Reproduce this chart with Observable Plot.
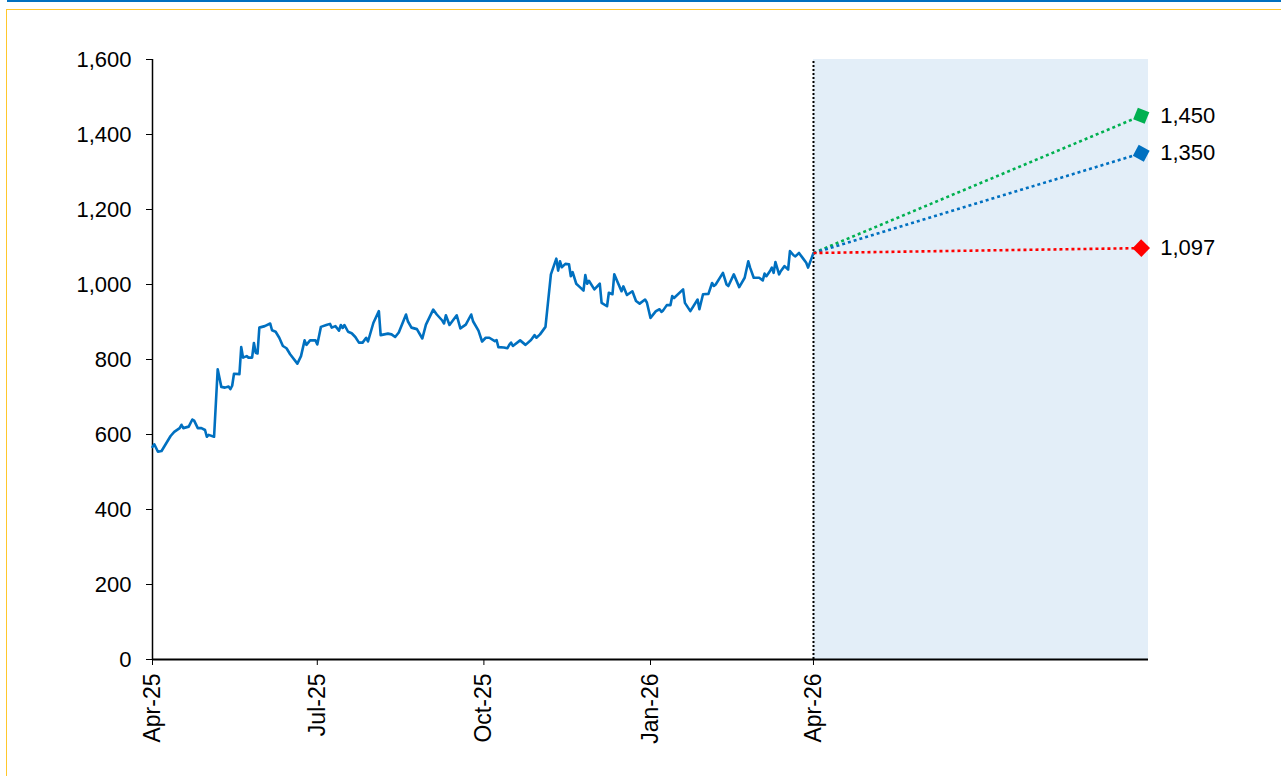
<!DOCTYPE html>
<html>
<head>
<meta charset="utf-8">
<script src="https://cdn.jsdelivr.net/npm/d3@7"></script>
<script src="https://cdn.jsdelivr.net/npm/@observablehq/plot@0.6"></script>
<style>
  html, body { margin: 0; padding: 0; background: #ffffff; }
  #frame { position: relative; width: 1281px; height: 776px; overflow: hidden; }
  .topline { position: absolute; left: 7px; top: 0; right: 0; height: 2px; background: #0070c0; }
  .box { position: absolute; left: 6px; top: 9px; width: 1400px; height: 900px;
         border-left: 1px solid #ffc72c; border-top: 1px solid #ffc72c; }
  #chart { position: absolute; left: 0; top: 0; }
</style>
</head>
<body>
<div id="frame">
  <div class="topline"></div>
  <div class="box"></div>
  <div id="chart"></div>
</div>
<script>
// Daily closing prices, Apr-25 to Apr-26
const priceDates = [
  "2025-04-01","2025-04-02","2025-04-04","2025-04-06","2025-04-08","2025-04-11","2025-04-13","2025-04-16",
  "2025-04-17","2025-04-18","2025-04-21","2025-04-23","2025-04-24","2025-04-26","2025-04-28","2025-04-30",
  "2025-05-01","2025-05-02","2025-05-05","2025-05-07","2025-05-09","2025-05-11","2025-05-13","2025-05-14",
  "2025-05-15","2025-05-16","2025-05-19","2025-05-20","2025-05-21","2025-05-23","2025-05-24","2025-05-26",
  "2025-05-27","2025-05-28","2025-05-29","2025-05-30","2025-06-02","2025-06-05","2025-06-06","2025-06-08",
  "2025-06-10","2025-06-12","2025-06-14","2025-06-16","2025-06-20","2025-06-22","2025-06-24","2025-06-25",
  "2025-06-27","2025-06-30","2025-07-01","2025-07-03","2025-07-06","2025-07-08","2025-07-09","2025-07-11",
  "2025-07-13","2025-07-14","2025-07-15","2025-07-16","2025-07-18","2025-07-20","2025-07-22","2025-07-24",
  "2025-07-26","2025-07-28","2025-07-29","2025-08-01","2025-08-04","2025-08-05","2025-08-09","2025-08-11",
  "2025-08-13","2025-08-15","2025-08-19","2025-08-20","2025-08-22","2025-08-25","2025-08-28","2025-08-30",
  "2025-09-03","2025-09-05","2025-09-08","2025-09-09","2025-09-10","2025-09-12","2025-09-16","2025-09-18",
  "2025-09-21","2025-09-24","2025-09-25","2025-09-28","2025-09-30","2025-10-02","2025-10-04","2025-10-07",
  "2025-10-08","2025-10-09","2025-10-12","2025-10-14","2025-10-15","2025-10-16","2025-10-17","2025-10-21",
  "2025-10-24","2025-10-27","2025-10-29","2025-10-30","2025-11-01","2025-11-04","2025-11-07","2025-11-10",
  "2025-11-11","2025-11-12","2025-11-13","2025-11-15","2025-11-17","2025-11-18","2025-11-19","2025-11-21",
  "2025-11-23","2025-11-25","2025-11-26","2025-11-27","2025-11-28","2025-12-01","2025-12-04","2025-12-05",
  "2025-12-08","2025-12-09","2025-12-11","2025-12-12","2025-12-16","2025-12-17","2025-12-19","2025-12-22",
  "2025-12-24","2025-12-26","2025-12-29","2025-12-30","2026-01-01","2026-01-04","2026-01-06","2026-01-07",
  "2026-01-08","2026-01-10","2026-01-12","2026-01-13","2026-01-14","2026-01-19","2026-01-20","2026-01-23",
  "2026-01-27","2026-01-28","2026-01-30","2026-02-02","2026-02-04","2026-02-05","2026-02-06","2026-02-10",
  "2026-02-12","2026-02-13","2026-02-16","2026-02-19","2026-02-22","2026-02-24","2026-02-25","2026-02-27",
  "2026-03-02","2026-03-04","2026-03-05","2026-03-06","2026-03-08","2026-03-09","2026-03-10","2026-03-11",
  "2026-03-13","2026-03-14","2026-03-16","2026-03-18","2026-03-19","2026-03-21","2026-03-22","2026-03-24",
  "2026-03-26","2026-03-28","2026-03-29","2026-03-31","2026-04-01"
];
const priceValues = [
  567, 574, 554, 556, 572, 596, 607, 617,
  626, 617, 621, 640, 637, 617, 617, 612,
  594, 599, 594, 774, 727, 725, 728, 721,
  730, 762, 761, 833, 805, 809, 805, 805,
  844, 818, 816, 885, 889, 896, 878, 874,
  858, 836, 830, 814, 789, 809, 851, 839,
  851, 851, 840, 887, 892, 895, 885, 889,
  877, 892, 884, 892, 874, 870, 860, 845,
  845, 858, 848, 898, 929, 865, 869, 867,
  860, 872, 920, 902, 885, 881, 856, 893,
  933, 920, 904, 896, 918, 892, 918, 883,
  893, 920, 902, 877, 848, 858, 858, 849,
  852, 833, 832, 830, 839, 845, 836, 851,
  839, 852, 865, 858, 867, 887, 1027, 1069,
  1037, 1062, 1046, 1055, 1054, 1022, 1033, 1002,
  993, 984, 1025, 1002, 1010, 987, 1002, 951,
  942, 978, 974, 1027, 982, 995, 972, 982,
  956, 949, 960, 952, 911, 929, 934, 927,
  931, 945, 945, 969, 964, 987, 951, 929,
  960, 934, 974, 975, 1004, 996, 1000, 1031,
  1000, 996, 1027, 993, 1018, 1062, 1045, 1018,
  1018, 1011, 1029, 1022, 1036, 1045, 1031, 1060,
  1027, 1036, 1049, 1040, 1089, 1078, 1075, 1084,
  1071, 1058, 1045, 1071, 1084
];

// Price targets at the end of the forecast window
const scenarioNames = ["bull", "base", "bear"];
const targetValues = [1450, 1350, 1097];
const targetLabels = ["1,450", "1,350", "1,097"];
const forecastStart = "2026-04-01";
const targetDate = "2026-09-29";

// Axis setup
const axisStart = "2025-04-01";
const axisEnd = "2026-10-03";
const xTickDates = ["2025-04-01", "2025-07-01", "2025-10-01", "2026-01-01", "2026-04-01"];
const xTickLabels = ["Apr-25", "Jul-25", "Oct-25", "Jan-26", "Apr-26"];
const yTicks = [0, 200, 400, 600, 800, 1000, 1200, 1400, 1600];

const scenarioColor = { bull: "#00b050", base: "#0070c0", bear: "#ff0000" };
const priceColor = "#0070c0";
const shadeColor = "#e3eef8";
const fontSize = 21;
const valueFontSize = 22;
const dateFontSize = 23;

const prices = priceDates.map((d, i) => ({ date: new Date(d), value: priceValues[i] }));
const lastPrice = priceValues[priceValues.length - 1];

const forecastPaths = scenarioNames.flatMap((name, i) => [
  { name, date: new Date(forecastStart), value: lastPrice },
  { name, date: new Date(targetDate), value: targetValues[i] }
]);
const targets = scenarioNames.map((name, i) => ({
  name, date: new Date(targetDate), value: targetValues[i], label: targetLabels[i]
}));

const tickLabelByTime = new Map(xTickDates.map((d, i) => [+new Date(d), xTickLabels[i]]));
const thousands = d3.format(",");

const chart = Plot.plot({
  width: 1281,
  height: 776,
  marginTop: 59,
  marginRight: 133,
  marginBottom: 117,
  marginLeft: 152,
  style: {
    fontFamily: "'Liberation Sans', Arial, sans-serif",
    fontSize: fontSize + "px",
    background: "transparent",
    color: "#000"
  },
  x: { type: "utc", domain: [new Date(axisStart), new Date(axisEnd)] },
  y: { domain: [0, 1600] },
  color: { type: "identity" },
  marks: [
    // forecast window shading
    Plot.rect([{ x1: new Date(forecastStart), x2: new Date(axisEnd) }], {
      x1: "x1", x2: "x2", y1: () => 0, y2: () => 1600, fill: shadeColor
    }),
    // divider at the start of the forecast window
    Plot.ruleX([new Date(forecastStart)], {
      y1: () => 0, y2: () => 1600, stroke: "#000", strokeWidth: 2, strokeDasharray: "2,2"
    }),
    // axis lines
    Plot.ruleX([new Date(axisStart)], { y1: () => 0, y2: () => 1600, stroke: "#000", strokeWidth: 1.5 }),
    Plot.ruleY([0], { stroke: "#000", strokeWidth: 2 }),
    Plot.axisY({
      ticks: yTicks, tickFormat: thousands, tickSize: 6, tickPadding: 15,
      fontSize: valueFontSize, label: null
    }),
    Plot.axisX({
      ticks: xTickDates.map((d) => new Date(d)),
      tickFormat: (d) => tickLabelByTime.get(+d),
      tickRotate: -90, tickSize: 6, tickPadding: 8, fontSize: dateFontSize, label: null
    }),
    // price history
    Plot.line(prices, {
      x: "date", y: "value", stroke: priceColor, strokeWidth: 2.6,
      strokeLinejoin: "round", strokeLinecap: "round"
    }),
    // scenario paths
    Plot.line(forecastPaths, {
      x: "date", y: "value", z: "name",
      stroke: (d) => scenarioColor[d.name],
      strokeWidth: 2.6, strokeDasharray: "3,3", strokeLinecap: "butt"
    }),
    // target markers, turned to follow each path
    Plot.dot(targets, {
      x: "date", y: "value", symbol: "square", r: 7,
      fill: (d) => scenarioColor[d.name], stroke: "none",
      render(index, scales, values, dimensions, context, next) {
        const g = next(index, scales, values, dimensions, context);
        const x0 = scales.x(new Date(forecastStart));
        const y0 = scales.y(lastPrice);
        const paths = g.querySelectorAll("path");
        index.forEach((i, k) => {
          const xi = values.x[i], yi = values.y[i];
          const a = Math.atan2(yi - y0, xi - x0) * 180 / Math.PI;
          if (paths[k]) paths[k].setAttribute("transform", `translate(${xi},${yi}) rotate(${45 + a})`);
        });
        return g;
      }
    }),
    Plot.text(targets, {
      x: "date", y: "value", text: "label", dx: 19, textAnchor: "start",
      fontSize: valueFontSize, fill: "#000"
    })
  ]
});

document.getElementById("chart").appendChild(chart);
</script>
</body>
</html>
